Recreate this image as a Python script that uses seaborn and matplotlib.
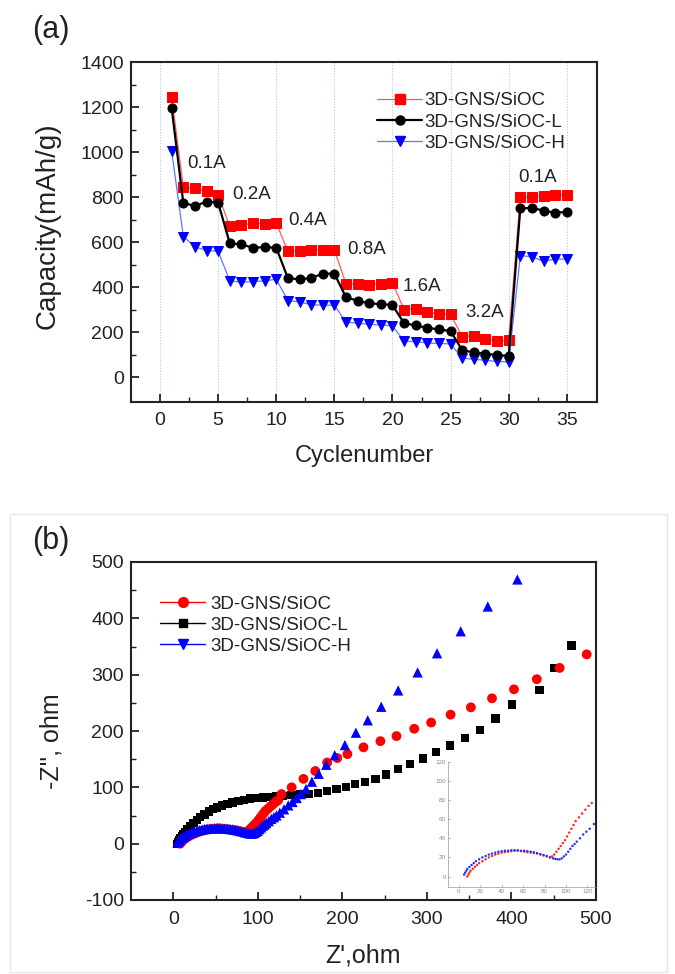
import numpy as np
import matplotlib
matplotlib.use("Agg")
import matplotlib.pyplot as plt
import seaborn as sns
from matplotlib.lines import Line2D
from matplotlib.patches import Rectangle

sns.set_style("ticks")
plt.rcParams["font.family"] = ["Liberation Sans", "DejaVu Sans"]
plt.rcParams["axes.unicode_minus"] = False
plt.rcParams["text.color"] = "#222222"
plt.rcParams["axes.labelcolor"] = "#222222"
plt.rcParams["xtick.color"] = "#222222"
plt.rcParams["ytick.color"] = "#222222"

# ---- (a) rate capability ----
cycles = list(range(1, 36))
series_labels = ["3D-GNS/SiOC", "3D-GNS/SiOC-L", "3D-GNS/SiOC-H"]
cap_sioc = [1245, 845, 840, 825, 810, 670, 675, 685, 680, 685,
            560, 560, 565, 565, 565, 415, 415, 410, 415, 420,
            300, 305, 290, 280, 280, 180, 185, 170, 160, 165,
            800, 800, 805, 810, 810]
cap_sioc_l = [1195, 775, 760, 780, 775, 595, 590, 575, 578, 575,
              440, 435, 440, 460, 460, 355, 340, 328, 325, 320,
              240, 230, 220, 212, 205, 120, 110, 105, 98, 95,
              750, 752, 740, 730, 735]
cap_sioc_h = [1005, 625, 580, 562, 560, 428, 422, 425, 428, 435,
              340, 335, 322, 320, 320, 245, 240, 235, 232, 228,
              160, 158, 152, 150, 148, 85, 80, 75, 70, 68,
              540, 535, 515, 525, 525]
rate_labels = ["0.1A", "0.2A", "0.4A", "0.8A", "1.6A", "3.2A", "0.1A"]
rate_x = [4.0, 7.9, 12.7, 17.8, 22.5, 27.9, 32.5]
rate_y = [950, 813, 695, 569, 404, 288, 887]

# ---- (b) Nyquist plot ----
z_red_x = [8, 9, 10, 11, 13, 15, 17, 19, 22, 25, 28, 31, 34, 37, 40, 43, 46, 49,
           52, 55, 58, 61, 64, 67, 70, 73, 76, 79, 82, 85, 87, 89, 91, 93, 95, 97,
           99, 101, 103, 105, 107, 109, 112, 115, 118, 121, 124,
           128, 140, 154, 168, 182, 194, 206, 225, 245, 264, 285, 305, 328, 352,
           377, 403, 430, 457, 489]
z_red_y = [0, 2, 4, 6, 8, 10, 12, 14, 16, 18, 20, 21.5, 23, 24, 25, 25.5, 26, 26.5,
           27, 27, 26.5, 26, 25.5, 25, 24.5, 24, 23, 22, 21, 20, 21, 23, 26, 29, 32, 35,
           38, 42, 46, 50, 54, 58, 62, 66, 70, 74, 77,
           88, 100, 115, 129, 144, 152, 159, 171, 182, 191, 204, 215, 229, 242,
           258, 274, 292, 312, 336]
z_blk_x = [5, 6, 7, 8, 10, 12, 14, 17, 20, 24, 28, 32, 37, 42, 47, 52, 58, 64, 70,
           77, 84, 91, 98, 106, 114, 122, 130, 140, 150, 160, 171, 182, 193, 204,
           215, 227, 239, 252, 266, 280, 295, 311, 327, 345, 363, 381, 401, 433,
           451, 471]
z_blk_y = [0, 3, 6, 9, 13, 17, 21, 26, 31, 37, 42, 47, 52, 57, 61, 64, 68, 71, 73,
           76, 78, 80, 81, 82, 83, 84, 85, 86, 87, 88, 90, 93, 97, 101,
           106, 110, 115, 123, 132, 141, 151, 163, 174, 187, 202, 222, 247, 273,
           312, 352]
z_blu_x = [5, 6, 7, 8, 10, 12, 14, 16, 19, 22, 25, 28, 31, 34, 37, 40, 43, 46, 49,
           52, 55, 58, 61, 64, 67, 70, 73, 76, 79, 82, 85, 88, 90, 92, 94, 96, 98,
           100, 102, 104, 106, 108, 110, 113, 116, 119, 122,
           126, 131, 136, 141, 146, 151, 157, 164, 172, 181, 191, 203, 216, 230,
           246, 266, 289, 312, 340, 372, 407]
z_blu_y = [2, 4, 6, 8, 10, 12, 14, 16, 18, 20, 21.5, 23, 24, 25, 26, 26.5, 27, 27,
           27.5, 27.5, 27.5, 27, 27, 26.5, 26, 25.5, 24.5, 23.5, 22.5, 21.5, 20, 19,
           18.5, 18, 18, 19, 21, 23, 26, 29, 32, 34, 36.5, 40, 44, 47, 50,
           55, 61, 68, 74, 81, 88, 97, 110, 124, 140, 157, 175, 197, 219,
           243, 272, 304, 338, 377, 421, 469]

fig = plt.figure(figsize=(6.75, 9.74), dpi=100)

# light frame around lower picture
fig.patches.append(Rectangle((10 / 675, 2 / 974), 657 / 675, 458 / 974,
                             transform=fig.transFigure, fill=False,
                             edgecolor="#e6e6e6", lw=1.0))

# ================= panel (a) =================
ax1 = fig.add_axes([131 / 675, 1 - 402 / 974, 466 / 675, 340 / 974])
for xv in range(0, 40, 5):
    ax1.axvline(xv, color="#b8c0f0", lw=0.8, ls=(0, (1, 1.5)), zorder=0)

sns.lineplot(x=cycles, y=cap_sioc, ax=ax1, color="#ff5a5a", lw=0.9,
             marker="s", markersize=6.5, markerfacecolor="#ff0000",
             markeredgecolor="#ff0000", zorder=3)
sns.lineplot(x=cycles, y=cap_sioc_l, ax=ax1, color="#000000", lw=1.6,
             marker="o", markersize=6.5, markerfacecolor="#000000",
             markeredgecolor="#000000", zorder=4)
sns.lineplot(x=cycles, y=cap_sioc_h, ax=ax1, color="#5a78ff", lw=0.9,
             marker="v", markersize=7, markerfacecolor="#0000ff",
             markeredgecolor="#0000ff", zorder=3)

for lab, xv, yv in zip(rate_labels, rate_x, rate_y):
    ax1.text(xv, yv, lab, fontsize=13.5, ha="center", va="center", color="#222222")

ax1.set_xlim(-2.5, 37.6)
ax1.set_ylim(-110, 1400)
ax1.set_xticks(range(0, 40, 5))
ax1.set_xticks(np.arange(2.5, 37.5, 5), minor=True)
ax1.set_yticks(range(0, 1600, 200))
ax1.set_yticks(range(100, 1400, 200), minor=True)
ax1.tick_params(axis="both", which="both", direction="in", top=False, right=False,
                labelsize=14)
ax1.tick_params(axis="both", which="major", length=6, width=1.3)
ax1.tick_params(axis="both", which="minor", length=3.5, width=1.0)
ax1.tick_params(axis="x", pad=7)
ax1.tick_params(axis="y", pad=5)
for sp in ax1.spines.values():
    sp.set_linewidth(1.5)
    sp.set_color("#222222")
ax1.set_xlabel("Cyclenumber", fontsize=17)
ax1.set_ylabel("Capacity(mAh/g)", fontsize=20)
ax1.xaxis.set_label_coords(0.5, -0.125)
ax1.yaxis.set_label_coords(-0.15, 0.52)

h_a = [Line2D([0], [0], color="#ff5a5a", lw=0.9, marker="s", markersize=6.5,
              markerfacecolor="#ff0000", markeredgecolor="#ff0000"),
       Line2D([0], [0], color="#000000", lw=1.6, marker="o", markersize=6.5,
              markerfacecolor="#000000", markeredgecolor="#000000"),
       Line2D([0], [0], color="#5a78ff", lw=0.9, marker="v", markersize=7,
              markerfacecolor="#0000ff", markeredgecolor="#0000ff")]
ax1.legend(h_a, series_labels, loc="upper left", bbox_to_anchor=(0.5, 0.95),
           frameon=False, fontsize=13.5, handlelength=2.4, handletextpad=0.1,
           labelspacing=0.22, borderpad=0.2)

fig.text(32 / 675, 1 - 30 / 974, "(a)", fontsize=22, ha="left", va="center")

# ================= panel (b) =================
ax2 = fig.add_axes([131 / 675, 1 - 900 / 974, 465 / 675, 338 / 974])
sns.scatterplot(x=z_blk_x, y=z_blk_y, ax=ax2, marker="s", s=36, color="#000000",
                edgecolor="none", zorder=3)
sns.scatterplot(x=z_red_x, y=z_red_y, ax=ax2, marker="o", s=50, color="#ff0000",
                edgecolor="none", zorder=4)
sns.scatterplot(x=z_blu_x, y=z_blu_y, ax=ax2, marker="^", s=55, color="#0000ff",
                edgecolor="none", zorder=5)

ax2.set_xlim(-50, 500)
ax2.set_ylim(-100, 500)
ax2.set_xticks(range(0, 600, 100))
ax2.set_xticks(range(50, 500, 100), minor=True)
ax2.set_yticks(range(-100, 600, 100))
ax2.set_yticks(range(-50, 500, 100), minor=True)
ax2.tick_params(axis="both", which="both", direction="in", top=False, right=False,
                labelsize=14)
ax2.tick_params(axis="both", which="major", length=6, width=1.3)
ax2.tick_params(axis="both", which="minor", length=3.5, width=1.0)
ax2.tick_params(axis="x", pad=8)
ax2.tick_params(axis="y", pad=5)
for sp in ax2.spines.values():
    sp.set_linewidth(1.5)
    sp.set_color("#222222")
ax2.set_xlabel("Z',ohm", fontsize=18)
ax2.set_ylabel("-Z'', ohm", fontsize=18)
ax2.xaxis.set_label_coords(0.5, -0.13)
ax2.yaxis.set_label_coords(-0.145, 0.47)

h_b = [Line2D([0], [0], color="#ff0000", lw=1.0, marker="o", markersize=7,
              markerfacecolor="#ff0000", markeredgecolor="#ff0000"),
       Line2D([0], [0], color="#000000", lw=1.0, marker="s", markersize=6,
              markerfacecolor="#000000", markeredgecolor="#000000"),
       Line2D([0], [0], color="#0000ff", lw=1.0, marker="v", markersize=7,
              markerfacecolor="#0000ff", markeredgecolor="#0000ff")]
ax2.legend(h_b, series_labels, loc="upper left", bbox_to_anchor=(0.035, 0.94),
           frameon=False, fontsize=13.5, handlelength=2.4, handletextpad=0.25,
           labelspacing=0.22, borderpad=0.2)

fig.text(32 / 675, 1 - 541 / 974, "(b)", fontsize=22, ha="left", va="center")

# inset with the high-frequency semicircle
axi = fig.add_axes([448 / 675, 1 - 887 / 974, 147 / 675, 125 / 974])
axi.patch.set_alpha(0.0)
sns.scatterplot(x=z_red_x, y=z_red_y, ax=axi, marker="o", s=3, color="#ff2020",
                edgecolor="none")
sns.scatterplot(x=z_blu_x, y=z_blu_y, ax=axi, marker="o", s=3, color="#2030ff",
                edgecolor="none")
axi.set_xlim(-10, 127)
axi.set_ylim(-11, 120)
axi.set_xticks(range(0, 140, 20))
axi.set_yticks(range(0, 140, 20))
axi.tick_params(axis="both", which="both", direction="in", labelsize=4.5,
                length=1.5, width=0.5, pad=1.5, colors="#888888")
axi.spines["top"].set_visible(False)
axi.spines["right"].set_visible(False)
for sp in ["left", "bottom"]:
    axi.spines[sp].set_linewidth(0.6)
    axi.spines[sp].set_color("#aaaaaa")

fig.savefig("out.png", dpi=100)
